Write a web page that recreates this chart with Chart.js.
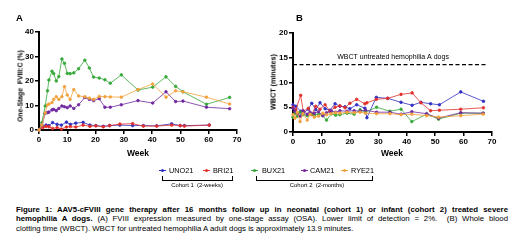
<!DOCTYPE html>
<html>
<head>
<meta charset="utf-8">
<script src="https://cdn.jsdelivr.net/npm/chart.js@4.4.1/dist/chart.umd.min.js"></script>
<style>
  body { margin: 0; background: #fff; width: 520px; height: 245px; overflow: hidden; position: relative; font-family: "Liberation Sans", Arial, sans-serif; color: #000; }
  canvas { position: absolute; top: 0; }
  #chartA { left: 0; }
  #chartB { left: 260px; }
  .lbl { position: absolute; white-space: nowrap; font-weight: bold; }
  .ytitle { position: absolute; white-space: nowrap; font-weight: bold; transform: translate(-50%, -50%) rotate(-90deg); }
  .leg { position: absolute; top: 166px; font-size: 7.3px; white-space: nowrap; }
  .mk { position: absolute; top: 170px; width: 7px; height: 1px; }
  .mk i { position: absolute; left: 2px; top: -1px; width: 3px; height: 3px; border-radius: 50%; background: inherit; }
  .brk { position: absolute; top: 176px; height: 4px; border: 1px solid #000; border-top: none; }
  .coh { position: absolute; top: 182px; font-size: 5.9px; white-space: nowrap; transform: translateX(-50%); }
  #caption { position: absolute; left: 16px; top: 205px; width: 492px; font-size: 7.8px; line-height: 9.3px; }
  #caption div { text-align: justify; text-align-last: justify; white-space: nowrap; }
  #caption div.last { text-align-last: left; }
</style>
</head>
<body>
<canvas id="chartA" width="260" height="165"></canvas>
<canvas id="chartB" width="260" height="165"></canvas>

<div class="lbl" style="left:16px; top:12px; font-size:9.5px;">A</div>
<div class="lbl" style="left:296px; top:12px; font-size:9.5px;">B</div>
<div class="ytitle" style="left:20px; top:86px; font-size:6.8px;">One-Stage&nbsp; FVIII:C (%)</div>
<div class="ytitle" style="left:273px; top:82px; font-size:7.2px;">WBCT (minutes)</div>
<div class="lbl" style="left:138px; top:148px; font-size:8.5px; transform:translateX(-50%);">Week</div>
<div class="lbl" style="left:392px; top:148px; font-size:8.5px; transform:translateX(-50%);">Week</div>

<div class="mk" style="left:159px; background:#2f2fc4;"><i></i></div><div class="leg" style="left:169px;">UNO21</div>
<div class="mk" style="left:203px; background:#e3302b;"><i></i></div><div class="leg" style="left:213px;">BRI21</div>
<div class="mk" style="left:251px; background:#36a83a;"><i></i></div><div class="leg" style="left:262px;">BUX21</div>
<div class="mk" style="left:301px; background:#7128a0;"><i></i></div><div class="leg" style="left:310px;">CAM21</div>
<div class="mk" style="left:341px; background:#f2a13c;"><i></i></div><div class="leg" style="left:351px;">RYE21</div>
<div class="brk" style="left:162px; width:69px;"></div>
<div class="brk" style="left:256px; width:115px;"></div>
<div class="coh" style="left:197px;">Cohort 1 &nbsp;(2-weeks)</div>
<div class="coh" style="left:317px;">Cohort 2 &nbsp;(2-months)</div>

<div id="caption">
  <div><b>Figure 1: AAV5-cFVIII gene therapy after 16 months follow up in neonatal (cohort 1) or infant (cohort 2) treated severe</b></div>
  <div><b>hemophilia A dogs.</b> (A) FVIII expression measured by one-stage assay (OSA). Lower limit of detection = 2%.&nbsp; (B) Whole blood</div>
  <div class="last">clotting time (WBCT). WBCT for untreated hemophilia A adult dogs is approximately 13.9 minutes.</div>
</div>

<script>
/* Panel A: one-stage FVIII:C (%) */

const weeksA1 = [0, 1.4, 2.5, 3.5, 4.8, 6.4, 7.9, 9.7, 11.1, 13, 15.6, 18, 20.1, 22.7, 25, 28.6, 33.1, 36.9, 41.6, 46.9, 49.9, 51.4, 60.2];
const unoA = [0, 1.5, 2, 1.8, 3, 2.3, 2, 3.2, 2.3, 2.8, 3.1, 2, 1.8, 1.5, 1.8, 2, 1.8, 1.8, 1.7, 2.5, 1.8, 1.8, 2];
const briA = [0, 1, 1.5, 1.3, 0.6, 1, 0.4, 1.2, 1.4, 1.2, 2, 1.5, 1.7, 1.3, 1.8, 2.4, 2.6, 1.6, 1.6, 2, 1.8, 1.6, 2];

const weeksA2 = [0, 1, 2.2, 3, 3.5, 4.6, 5.2, 6.1, 7, 8.1, 9, 10, 11, 12.3, 14, 16.2, 17.8, 19.3, 21.3, 23.3, 25.2, 29.1, 35, 40.2, 44.9, 48.3, 50.9, 59.2, 67.4];
const buxA = [0, 3, 9.8, 16, 20.4, 24, 23, 20, 21.8, 29, 27.2, 23.1, 23, 23.3, 25, 28.5, 25.3, 21.6, 21.2, 20.5, 19.1, 22.5, 16.3, 17.5, 21.7, 17.8, 15.6, 10.5, 13.3];
const camA = [0, 2, 6.8, 7.1, 7.3, 8.2, 8.4, 7.9, 8.8, 9.8, 9.5, 9.1, 9.8, 8.8, 10.3, 13.3, 12.5, 12, 12.8, 9.3, 9.3, 10.3, 12, 11, 15.6, 11.6, 11.8, 9.3, 8.7];
const ryeA = [0, 2, 7, 10.2, 10.6, 11.2, 12.5, 13.6, 12.5, 13.6, 17.7, 14.3, 12.5, 16.5, 13.9, 13.6, 13, 12.5, 13.7, 13.6, 13.5, 13.4, 16.5, 18.8, 13.4, 16, 15.6, 13.4, 10.6];

/* Panel B: WBCT (minutes) */

const weeksB1 = [0, 1, 2.7, 3.6, 5.4, 6.6, 8, 9.5, 11.3, 13, 14.8, 16.5, 18.3, 20, 22.4, 25.3, 26, 29.3, 33.3, 38, 41.9, 45, 48.4, 51.5, 59, 67];
const unoB = [5.5, 5.2, 4.2, 3.8, 4.6, 5.8, 4.5, 5.9, 4.7, 4.4, 5.7, 5.2, 5.1, 4.7, 5.5, 4.8, 2.9, 7, 6.8, 6, 5.4, 6, 5.7, 5.5, 8.1, 6.2];
const briB = [5, 4.5, 7.4, 4.2, 4.8, 3.5, 5.2, 4.6, 5.5, 4.2, 5, 5.3, 4.9, 5.8, 6.6, 5.7, 5.9, 6.6, 6.8, 7.6, 7.9, 5.9, 4.3, 4.4, 4.6, 4.9];

const weeksB2 = [0, 0.7, 1.5, 2.5, 3.5, 5, 6, 7.5, 9, 10.5, 11.8, 13.5, 15, 16.5, 19, 21.5, 23.6, 25.5, 29.4, 34.1, 38, 41.8, 47, 51.2, 59, 66.9];
const buxB = [3, 3.8, 3.2, 4, 3.5, 3.3, 3.8, 3.4, 3.6, 3.3, 2.4, 3.7, 3.4, 3.5, 3.8, 3.6, 4.5, 4, 5, 4.2, 4.6, 2.1, 3.6, 2.6, 3.8, 3.8];
const camB = [4.8, 4.2, 3.7, 3.2, 4.3, 3.6, 4, 3.8, 4.1, 3.3, 3.9, 4.2, 4, 4.3, 4.2, 4.3, 4.2, 4.4, 4, 4, 3.6, 4.1, 3.7, 2.8, 3.9, 3.8];
const ryeB = [3.5, 2.8, 4, 2.1, 3.7, 2.4, 3.6, 3, 3.2, 3.8, 3.5, 3.7, 3.9, 3.8, 4, 3.9, 4, 3.8, 3.7, 3.7, 3.5, 3.6, 3.3, 3, 3.3, 3.6];

const untreatedWeeks = [0, 68];
const untreatedWbct = [13.6, 13.6];
const untreatedLabel = "WBCT untreated hemophilia A dogs";

const weekTicks = [0, 10, 20, 30, 40, 50, 60, 70];

const colors = {
    UNO21: "#2f2fc4",
    BRI21: "#e3302b",
    BUX21: "#36a83a",
    CAM21: "#7128a0",
    RYE21: "#f2a13c"
};

const FONT = "'Liberation Sans', Arial, sans-serif";

/* keep each caption line on one row: tighten letters if it runs past the box */
document.querySelectorAll("#caption div").forEach(line => {
    let spacing = 0;
    while (line.scrollWidth > 492 && spacing > -0.5) {
        spacing -= 0.05;
        line.style.letterSpacing = spacing + "px";
    }
});

function series(name, weeks, values, color) {
    return {
        label: name,
        data: weeks.map((w, i) => ({ x: w, y: values[i] })),
        borderColor: color || colors[name],
        backgroundColor: color || colors[name],
        borderWidth: 0.8,
        pointRadius: 1.3,
        pointHoverRadius: 0,
        showLine: true,
        clip: false
    };
}

function axes(yMax, yStep, yWidth, xHeight) {
    const tickFont = { family: FONT, size: 8, weight: "bold" };
    return {
        x: {
            type: "linear",
            min: 0,
            max: 70,
            afterBuildTicks: s => { s.ticks = weekTicks.map(v => ({ value: v })); },
            ticks: { color: "#000", font: tickFont, padding: 1, maxRotation: 0, autoSkip: false },
            grid: { drawOnChartArea: false, tickLength: 4, color: "#000", lineWidth: 1.5 },
            border: { color: "#000", width: 2 },
            afterFit: s => { s.height = xHeight; }
        },
        y: {
            min: 0,
            max: yMax,
            ticks: { stepSize: yStep, color: "#000", font: tickFont, padding: 1 },
            grid: { drawOnChartArea: false, tickLength: 4, color: "#000", lineWidth: 1.5 },
            border: { color: "#000", width: 2 },
            afterFit: s => { s.width = yWidth; }
        }
    };
}

const baseOptions = {
    responsive: false,
    animation: false,
    events: [],
    plugins: { legend: { display: false }, tooltip: { enabled: false } }
};

/* label over the dashed line, placed with the chart's own scales */
const untreatedText = {
    id: "untreatedText",
    afterDatasetsDraw(chart) {
        const { ctx, scales } = chart;
        ctx.save();
        ctx.font = "7px " + FONT;
        ctx.fillStyle = "#000";
        ctx.textAlign = "center";
        ctx.textBaseline = "middle";
        ctx.fillText(untreatedLabel, scales.x.getPixelForValue(35.2), scales.y.getPixelForValue(15.1));
        ctx.restore();
    }
};

new Chart(document.querySelector("#chartA"), {
    type: "scatter",
    data: {
        datasets: [
            series("RYE21", weeksA2, ryeA),
            series("CAM21", weeksA2, camA),
            series("BUX21", weeksA2, buxA),
            series("BRI21", weeksA1, briA),
            series("UNO21", weeksA1, unoA)
        ]
    },
    options: {
        ...baseOptions,
        layout: { padding: { left: 0, top: 32, right: 23, bottom: 0 } },
        scales: axes(40, 10, 39, 35)
    }
});

const dashed = series("untreated", untreatedWeeks, untreatedWbct, "#000");
dashed.borderDash = [4, 2.5];
dashed.borderWidth = 1.3;
dashed.pointRadius = 0;

new Chart(document.querySelector("#chartB"), {
    type: "scatter",
    data: {
        datasets: [
            dashed,
            series("RYE21", weeksB2, ryeB),
            series("CAM21", weeksB2, camB),
            series("BUX21", weeksB2, buxB),
            series("BRI21", weeksB1, briB),
            series("UNO21", weeksB1, unoB)
        ]
    },
    options: {
        ...baseOptions,
        layout: { padding: { left: 0, top: 33, right: 28, bottom: 0 } },
        scales: axes(20, 5, 33, 33)
    },
    plugins: [untreatedText]
});
</script>
</body>
</html>
